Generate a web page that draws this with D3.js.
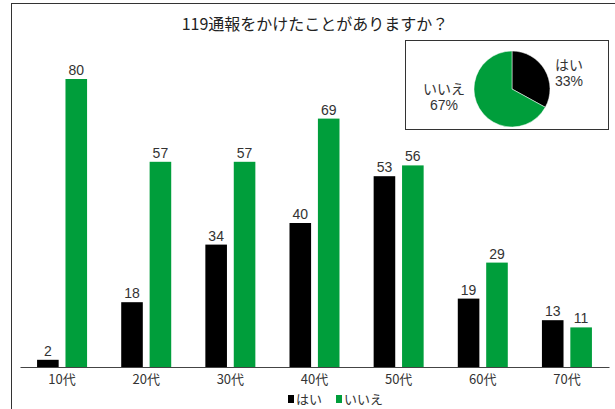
<!DOCTYPE html>
<html>
<head>
<meta charset="utf-8">
<script src="https://cdn.jsdelivr.net/npm/d3@7"></script>
<style>
  body { margin: 0; background: #fff; }
  svg { display: block; font-family: "Noto Sans CJK JP", "Noto Sans", sans-serif; }
</style>
</head>
<body>
<div id="chart"></div>
<script>
const categories = ["10代", "20代", "30代", "40代", "50代", "60代", "70代"];
const seriesNames = ["はい", "いいえ"];
const yesValues = [2, 18, 34, 40, 53, 19, 13];
const noValues = [80, 57, 57, 69, 56, 29, 11];
const pieLabels = ["はい", "いいえ"];
const pieValues = [33, 67];
const colors = ["#000000", "#009e3b"];

const width = 615, height = 409;
const svg = d3.select("#chart").append("svg")
    .attr("width", width)
    .attr("height", height);

// outer frame (runs off the right/bottom edge)
svg.append("rect")
    .attr("x", 11.5).attr("y", 3.5)
    .attr("width", 620).attr("height", 420)
    .attr("fill", "none").attr("stroke", "#333").attr("stroke-width", 1);

svg.append("text")
    .attr("x", 315).attr("y", 30)
    .attr("text-anchor", "middle")
    .attr("font-size", 16)
    .attr("fill", "#222")
    .text("119通報をかけたことがありますか？");

const x = d3.scaleBand()
    .domain(categories)
    .range([20, 609]);

const x1 = d3.scaleBand()
    .domain(seriesNames)
    .range([-25, 25])
    .paddingInner(0.24);

const y = d3.scaleLinear()
    .domain([0, 90])
    .range([367, 43]);

const rows = categories.map((c, i) => ({ cat: c, vals: [yesValues[i], noValues[i]] }));

const groups = svg.selectAll("g.grp")
    .data(rows)
    .enter().append("g")
    .attr("class", "grp")
    .attr("transform", d => `translate(${x(d.cat) + x.bandwidth() / 2},0)`);

groups.selectAll("rect")
    .data(d => d.vals.map((v, j) => ({ name: seriesNames[j], v: v, j: j })))
    .enter().append("rect")
    .attr("x", d => x1(d.name))
    .attr("y", d => y(d.v))
    .attr("width", x1.bandwidth())
    .attr("height", d => y(0) - y(d.v))
    .attr("fill", d => colors[d.j]);

groups.selectAll("text")
    .data(d => d.vals.map((v, j) => ({ name: seriesNames[j], v: v })))
    .enter().append("text")
    .attr("x", d => x1(d.name) + x1.bandwidth() / 2)
    .attr("y", d => y(d.v) - 4)
    .attr("text-anchor", "middle")
    .attr("font-size", 14)
    .attr("font-family", "Liberation Sans, Arial, sans-serif")
    .attr("fill", "#333")
    .text(d => d.v);

// x axis
const xAxis = svg.append("g")
    .attr("transform", `translate(0,${y(0)})`)
    .call(d3.axisBottom(x).tickSize(0).tickPadding(8));
xAxis.select(".domain").attr("stroke", "#444");
xAxis.selectAll("text")
    .attr("font-size", 13)
    .attr("fill", "#333")
    .attr("font-family", "Noto Sans CJK JP, sans-serif");

// legend
const legend = svg.append("g").attr("transform", "translate(288,399)");
const legendX = [0, 48];
seriesNames.forEach((n, i) => {
    legend.append("rect")
        .attr("x", legendX[i]).attr("y", -4)
        .attr("width", 6).attr("height", 8)
        .attr("fill", colors[i]);
    legend.append("text")
        .attr("x", legendX[i] + 8).attr("y", 5)
        .attr("font-size", 13)
        .attr("fill", "#333")
        .text(n);
});

// inset pie
svg.append("rect")
    .attr("x", 405.5).attr("y", 40.5)
    .attr("width", 203).attr("height", 89)
    .attr("fill", "#fff").attr("stroke", "#333").attr("stroke-width", 1);

const pieData = d3.pie().sort(null)(pieValues);
const arc = d3.arc().innerRadius(0).outerRadius(38);
const pieG = svg.append("g").attr("transform", "translate(512,89)");
pieG.selectAll("path")
    .data(pieData)
    .enter().append("path")
    .attr("d", arc)
    .attr("fill", (d, i) => colors[i])
    .attr("stroke", "#fff")
    .attr("stroke-width", 0.5);

const pieLabelPos = [[569, 70], [444, 94]];
pieLabels.forEach((l, i) => {
    const px = pieLabelPos[i][0], py = pieLabelPos[i][1];
    svg.append("text")
        .attr("x", px).attr("y", py)
        .attr("text-anchor", "middle")
        .attr("font-size", 14)
        .attr("fill", "#333")
        .text(l);
    svg.append("text")
        .attr("x", px).attr("y", py + 16)
        .attr("text-anchor", "middle")
        .attr("font-size", 14)
        .attr("font-family", "Liberation Sans, Arial, sans-serif")
        .attr("fill", "#333")
        .text(pieValues[i] + "%");
});
</script>
</body>
</html>
